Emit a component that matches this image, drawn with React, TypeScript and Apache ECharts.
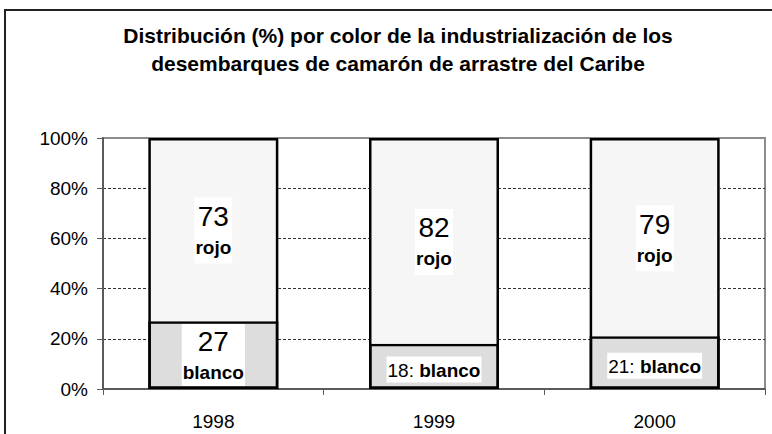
import React, { useEffect, useRef } from "react";
import * as echarts from "echarts";

const titleText = "Distribución (%) por color de la industrialización de los\ndesembarques de camarón de arrastre del Caribe";
const categories = ["1998", "1999", "2000"];
const blancoValues = [27, 18, 21];
const rojoValues = [73, 82, 79];
const blancoName = "blanco";
const rojoName = "rojo";
const yTicks = [0, 20, 40, 60, 80, 100];

const FONT = "'Liberation Sans', Arial, sans-serif";

export default function App() {
  const ref = useRef<HTMLDivElement>(null);

  useEffect(() => {
    if (!ref.current) return;
    const chart = echarts.init(ref.current, null, { renderer: "svg" });

    const rich = {
      n: { fontSize: 28, fontFamily: FONT, color: "#000", lineHeight: 34 },
      b: { fontSize: 19, fontFamily: FONT, fontWeight: "bold", color: "#000", lineHeight: 28 },
      s: { fontSize: 19, fontFamily: FONT, color: "#000", lineHeight: 24 },
      bs: { fontSize: 19, fontFamily: FONT, fontWeight: "bold", color: "#000", lineHeight: 24 },
    };

    const blancoData = blancoValues.map((v) => {
      const stacked = v >= 25;
      return {
        value: v,
        label: {
          show: true,
          position: "inside",
          formatter: stacked ? `{n|${v}}\n{b|${blancoName}}` : `{s|${v}: }{bs|${blancoName}}`,
          backgroundColor: "#fff",
          padding: stacked ? [0, 1, 0, 1] : [2, 1, 0, 1],
          offset: stacked ? [0, 0] : [0, 3],
          rich,
        },
      };
    });

    const rojoData = rojoValues.map((v) => ({
      value: v,
      label: {
        show: true,
        position: "inside",
        formatter: `{n|${v}}\n{b|${rojoName}}`,
        backgroundColor: "#fff",
        padding: [2, 1, 2, 1],
        offset: [0, 1],
        rich,
      },
    }));

    const totals = blancoValues.map((b, i) => b + rojoValues[i]);

    chart.setOption({
      animation: false,
      title: {
        text: titleText,
        left: 393,
        top: 16,
        textAlign: "center",
        textStyle: {
          fontFamily: FONT,
          fontWeight: "bold",
          fontSize: 21,
          lineHeight: 28,
          color: "#000",
        },
      },
      graphic: [
        {
          type: "rect",
          shape: { x: 5, y: 10, width: 800, height: 500 },
          style: { fill: "none", stroke: "#222", lineWidth: 2 },
          silent: true,
        },
      ],
      grid: {
        left: 103,
        right: 7,
        top: 138,
        bottom: 45,
        show: true,
        borderColor: "#8c8c8c",
        borderWidth: 2,
        backgroundColor: "transparent",
      },
      xAxis: {
        type: "category",
        data: categories,
        axisLine: { show: true, lineStyle: { color: "#5a5a5a", width: 2 } },
        axisTick: { show: true, length: 6, lineStyle: { color: "#5a5a5a", width: 1 } },
        axisLabel: { fontFamily: FONT, fontSize: 19, color: "#000", margin: 23 },
        splitLine: { show: false },
      },
      yAxis: {
        type: "value",
        min: yTicks[0],
        max: yTicks[yTicks.length - 1],
        interval: yTicks[1] - yTicks[0],
        axisLine: { show: true, lineStyle: { color: "#5a5a5a", width: 2 } },
        axisTick: { show: true, length: 6, lineStyle: { color: "#5a5a5a", width: 1 } },
        axisLabel: {
          fontFamily: FONT,
          fontSize: 19,
          color: "#000",
          margin: 15,
          formatter: (v: number) => `${v}%`,
        },
        splitLine: {
          show: true,
          showMinLine: false,
          showMaxLine: false,
          lineStyle: { color: "#333", width: 1, type: [3, 2] },
        },
      },
      series: [
        {
          name: blancoName,
          type: "bar",
          stack: "total",
          barWidth: 130,
          data: blancoData,
          itemStyle: { color: "#dddddd", borderColor: "#000", borderWidth: 2.5 },
        },
        {
          name: rojoName,
          type: "bar",
          stack: "total",
          barWidth: 130,
          data: rojoData,
          itemStyle: { color: "#f6f6f6", borderWidth: 0 },
        },
        {
          name: "outline",
          type: "bar",
          barWidth: 130,
          barGap: "-100%",
          silent: true,
          data: totals,
          itemStyle: { color: "transparent", borderColor: "#000", borderWidth: 2.5 },
          label: { show: false },
        },
      ],
    });

    return () => chart.dispose();
  }, []);

  return (
    <div
      ref={ref}
      style={{ position: "fixed", left: 0, top: 0, width: 772, height: 434, background: "#fff" }}
    />
  );
}
